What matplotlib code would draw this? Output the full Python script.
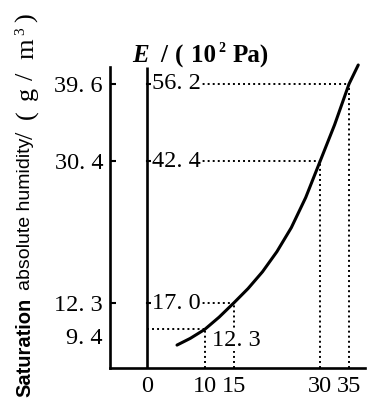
import matplotlib
matplotlib.use("Agg")
import matplotlib.pyplot as plt

# ---- data ----
curve_t = [5.2, 7.5, 10, 12.5, 15, 17.5, 20, 22.5, 25, 27.5, 30, 32.5, 35, 36.6]
curve_E = [9.5, 10.7, 12.3, 14.5, 17.0, 19.6, 22.6, 26.2, 30.5, 35.9, 42.4, 48.9, 56.2, 59.6]

mark_temps = [35, 30, 15, 10]
mark_E = [56.2, 42.4, 17.0, 12.3]
mark_E_labels = ['56. 2', '42. 4', '17. 0', '12. 3']
humidity_labels = ['39. 6', '30. 4', '12. 3', '9. 4']

x_ticks = [0, 10, 15, 30, 35]
x_tick_labels = ['0', '10', '15', '30', '35']

W, H = 367, 403
fig = plt.figure(figsize=(W / 100, H / 100), dpi=100)
ax = fig.add_axes([110 / W, 1 - 368 / H, (365 - 110) / W, (368 - 67) / H])
ax.set_xlim(-6.41, 37.77)
ax.set_ylim(5.4, 59.24)

serif = ['Liberation Serif', 'DejaVu Serif']
FS = 17.5

for s in ['top', 'right']:
    ax.spines[s].set_visible(False)
for s in ['left', 'bottom']:
    ax.spines[s].set_linewidth(1.9)

# left axis (humidity) ticks aligned with E marks
ax.set_yticks(mark_E[:3])
ax.set_yticklabels(humidity_labels[:3], fontfamily=serif, fontsize=FS)
ax.tick_params(axis='y', direction='in', length=4, width=1.5, pad=5)
ax.annotate(humidity_labels[3], xy=(0, mark_E[3]), xycoords=('axes fraction', 'data'),
            xytext=(-7, -9), textcoords='offset pixels', ha='right', va='center',
            fontfamily=serif, fontsize=FS)

ax.set_xticks(x_ticks)
ax.set_xticklabels(x_tick_labels, fontfamily=serif, fontsize=FS)
ax.tick_params(axis='x', length=0, pad=6)

# E axis at x=0
ax.plot([0, 0], [5.4, 59.24], color='black', lw=1.9, clip_on=False, solid_capstyle='butt')
for e in mark_E[:3]:
    ax.plot([0, 0.7], [e, e], color='black', lw=1.5)

# dotted guides
for t, e in zip(mark_temps, mark_E):
    ax.plot([0, t], [e, e], color='black', lw=1.4, ls=(0, (1, 1.6)))
    ax.plot([t, t], [5.4, e], color='black', lw=1.4, ls=(0, (1, 1.6)))

# E labels
for e, lab in zip(mark_E[:3], mark_E_labels[:3]):
    ax.text(0.85, e, lab, ha='left', va='center', fontfamily=serif, fontsize=FS,
            bbox=dict(facecolor='white', edgecolor='none', pad=0.5))
ax.text(11.3, 10.4, mark_E_labels[3], ha='left', va='center', fontfamily=serif, fontsize=FS,
        bbox=dict(facecolor='white', edgecolor='none', pad=0.5))

# curve
ax.plot(curve_t, curve_E, color='black', lw=2.2, clip_on=False, solid_capstyle='round')

# E axis title (pieces spaced like the wide original typeface)
title_parts = [('E', 132, 'italic'), ('/', 160, 'normal'), ('(', 175, 'normal'),
               ('10', 191, 'normal'), ('Pa)', 233, 'normal')]
for s, xp, st in title_parts:
    fig.text(xp / W, 1 - 56 / H, s, ha='left', va='center', fontfamily=serif,
             fontstyle=st, fontweight='bold', fontsize=18)
fig.text(218 / W, 1 - 49 / H, '2', ha='left', va='center', fontfamily=serif,
         fontweight='bold', fontsize=10)

# y label
fig.text(25 / W, 1 - 397 / H, 'Saturation', rotation=90, rotation_mode='anchor',
         ha='left', va='center', fontfamily='Liberation Sans', fontweight='bold', fontsize=14.5)
fig.text(25 / W, 1 - 290 / H, 'absolute humidity', rotation=90, rotation_mode='anchor',
         ha='left', va='center', fontfamily='Liberation Sans', fontsize=14)
ylab_parts = [('/', 139), ('(', 119), ('g', 100), ('/', 80), ('m', 59), (')', 22)]
for s, yp in ylab_parts:
    fig.text(27 / W, 1 - yp / H, s, rotation=90, rotation_mode='anchor',
             ha='left', va='center', fontfamily=serif, fontsize=19)
fig.text(21 / W, 1 - 35 / H, '3', rotation=90, rotation_mode='anchor',
         ha='left', va='center', fontfamily=serif, fontsize=11)

fig.savefig('out.png', dpi=100)
